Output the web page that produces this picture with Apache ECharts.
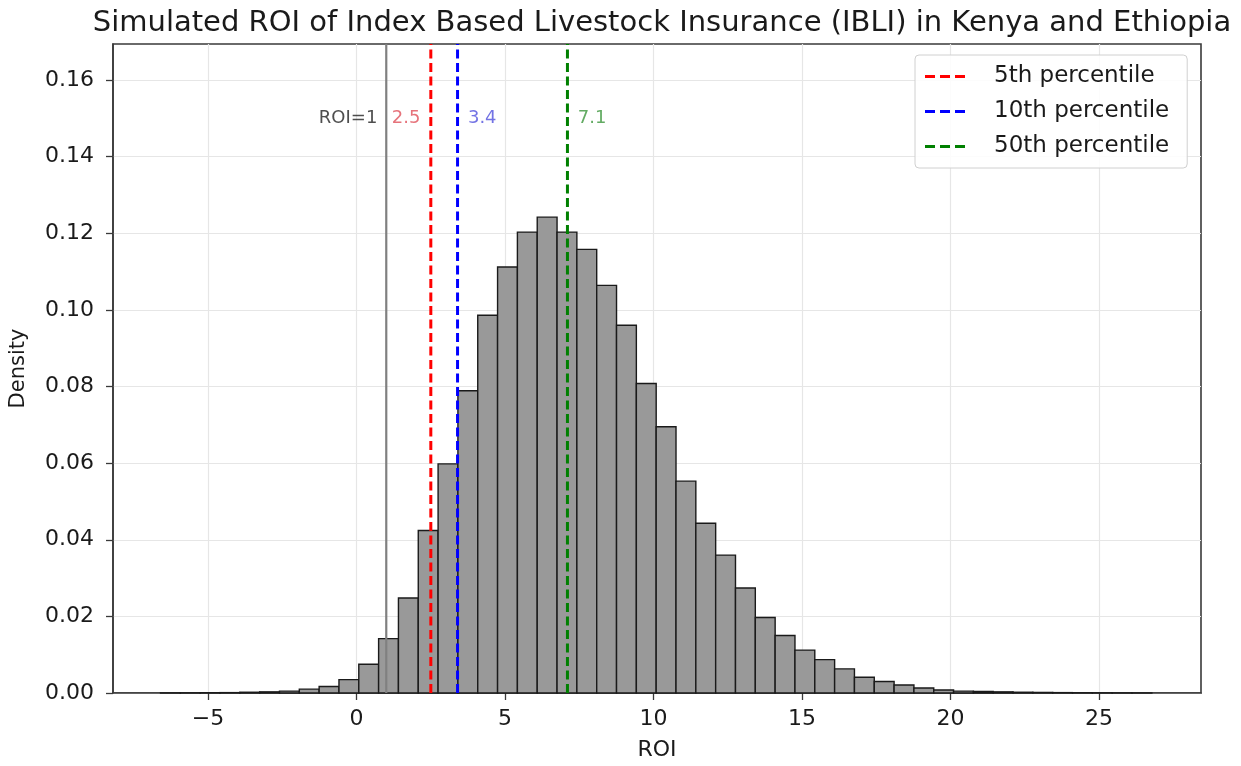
<!DOCTYPE html>
<html>
<head>
<meta charset="utf-8">
<script src="https://cdn.jsdelivr.net/npm/echarts@6/dist/echarts.min.js"></script>
<style>
html,body{margin:0;padding:0;background:#fff;}
#chart{width:1241px;height:766px;}
</style>
</head>
<body>
<div id="chart"></div>
<script>
// ---- data ----
const TITLE = 'Simulated ROI of Index Based Livestock Insurance (IBLI) in Kenya and Ethiopia';
const binStart = -6.60;
const binWidth = 0.6675;
const density = [
  0.00004, 0.00005, 0.00008, 0.0001, 0.0002, 0.0003, 0.0005, 0.001, 0.0017, 0.0035,
  0.0075, 0.0142, 0.0248, 0.0424, 0.0598, 0.0789, 0.0986, 0.1112, 0.1203, 0.1242,
  0.1203, 0.1158, 0.1064, 0.0960, 0.0808, 0.0695, 0.0553, 0.0443, 0.0360, 0.0274,
  0.0197, 0.0150, 0.0112, 0.0087, 0.0063, 0.0041, 0.0030, 0.0021, 0.0013, 0.0008,
  0.0005, 0.0004, 0.0003, 0.0002, 0.00015, 0.0001, 0.00007, 0.00005, 0.00003, 0.00002
];
const xTicks = [-5, 0, 5, 10, 15, 20, 25];
const yTicks = [0, 0.02, 0.04, 0.06, 0.08, 0.10, 0.12, 0.14, 0.16];
const percentileNames = ['5th percentile', '10th percentile', '50th percentile'];
const percentileValues = [2.5, 3.4, 7.1];
const percentileColors = ['#ff0000', '#0000ff', '#008000'];
const percentileLabelColors = ['#e0505a', '#5050dd', '#3c963c'];
const roiBreakEven = 1;
const X_MIN = -8.20, X_MAX = 28.43, Y_MIN = 0, Y_MAX = 0.1694;

// ---- build ----
const histData = density.map((d, i) => [binStart + i * binWidth, binStart + (i + 1) * binWidth, d]);
const FONT = 'DejaVu Sans';
const DASH_ICON = 'path://M0,0h10v3h-10z M15,0h10v3h-10z M30,0h10v3h-10z';

const series = [];
series.push({
  type: 'custom',
  name: 'hist',
  data: histData,
  encode: { x: [0, 1], y: 2 },
  renderItem: function (params, api) {
    const p0 = api.coord([api.value(0), 0]);
    const p1 = api.coord([api.value(1), api.value(2)]);
    return {
      type: 'rect',
      shape: { x: p0[0], y: p1[1], width: p1[0] - p0[0], height: p0[1] - p1[1] },
      style: { fill: '#999999', stroke: '#1a1a1a', lineWidth: 1.4 }
    };
  },
  z: 2
});
series.push({
  type: 'line',
  name: 'ROI=1',
  data: [[roiBreakEven, Y_MIN], [roiBreakEven, Y_MAX]],
  symbol: 'none',
  lineStyle: { color: '#808080', width: 2.2 },
  z: 3
});
percentileValues.forEach((v, i) => {
  series.push({
    type: 'line',
    name: percentileNames[i],
    data: [[v, Y_MIN], [v, Y_MAX]],
    symbol: 'none',
    itemStyle: { color: percentileColors[i] },
    lineStyle: { color: percentileColors[i], width: 3, type: [9, 4.5] },
    z: 4
  });
});
const labelY = 0.15;
const labelItems = [
  { value: [roiBreakEven - 0.3, labelY], text: 'ROI=' + roiBreakEven, color: '#222222', pos: 'left' },
  { value: [percentileValues[0] - 0.35, labelY], text: String(percentileValues[0]), color: percentileLabelColors[0], pos: 'left' },
  { value: [percentileValues[1] + 0.35, labelY], text: String(percentileValues[1]), color: percentileLabelColors[1], pos: 'right' },
  { value: [percentileValues[2] + 0.35, labelY], text: String(percentileValues[2]), color: percentileLabelColors[2], pos: 'right' }
];
series.push({
  type: 'scatter',
  name: 'labels',
  symbolSize: 0,
  silent: true,
  data: labelItems.map(l => ({
    value: l.value,
    label: { show: true, formatter: l.text, color: l.color, position: l.pos, distance: 0, fontSize: 18, fontFamily: FONT }
  })),
  z: 5
});

const chart = echarts.init(document.getElementById('chart'), null, { renderer: 'canvas' });
chart.setOption({
  backgroundColor: '#ffffff',
  animation: false,
  title: {
    text: TITLE,
    left: 657, textAlign: 'center', top: 4,
    textStyle: { fontFamily: FONT, fontSize: 29, fontWeight: 'normal', color: '#1a1a1a' }
  },
  legend: {
    data: percentileNames.map(n => ({ name: n, icon: DASH_ICON })),
    orient: 'vertical',
    left: 915, top: 55,
    itemWidth: 40, itemHeight: 3, itemGap: 12,
    padding: [10, 18, 10, 10],
    backgroundColor: 'rgba(255,255,255,0.85)',
    borderColor: '#d0d0d0', borderWidth: 1, borderRadius: 4,
    textStyle: { fontFamily: FONT, fontSize: 23, color: '#1a1a1a', padding: [0, 0, 0, 24] }
  },
  grid: {
    left: 113, right: 40, top: 44, bottom: 72,
    show: true, borderColor: '#3a3a3a', borderWidth: 1.6, backgroundColor: 'transparent'
  },
  xAxis: {
    type: 'value', min: X_MIN, max: X_MAX,
    name: 'ROI', nameLocation: 'middle', nameGap: 46,
    nameTextStyle: { fontFamily: FONT, fontSize: 22, color: '#1a1a1a' },
    axisLine: { show: true, onZero: false, lineStyle: { color: '#3a3a3a', width: 1.6 } },
    axisTick: { show: true, length: 7, customValues: xTicks, lineStyle: { color: '#3a3a3a', width: 1.3 } },
    axisLabel: { customValues: xTicks, fontFamily: FONT, fontSize: 22, color: '#1a1a1a', margin: 15,
      formatter: v => (v < 0 ? '\u2212' + Math.abs(v) : String(v)) },
    splitLine: { show: true, customValues: xTicks, lineStyle: { color: '#e6e6e6', width: 1.2 } }
  },
  yAxis: {
    type: 'value', min: Y_MIN, max: Y_MAX,
    name: 'Density', nameLocation: 'middle', nameGap: 84, nameRotate: 90,
    nameTextStyle: { fontFamily: FONT, fontSize: 21, color: '#1a1a1a' },
    axisLine: { show: true, onZero: false, lineStyle: { color: '#3a3a3a', width: 1.6 } },
    axisTick: { show: true, length: 7, customValues: yTicks, lineStyle: { color: '#3a3a3a', width: 1.3 } },
    axisLabel: { customValues: yTicks, fontFamily: FONT, fontSize: 22, color: '#1a1a1a', margin: 19,
      formatter: v => v.toFixed(2) },
    splitLine: { show: true, customValues: yTicks, lineStyle: { color: '#e6e6e6', width: 1.2 } }
  },
  series: series
});
</script>
</body>
</html>
